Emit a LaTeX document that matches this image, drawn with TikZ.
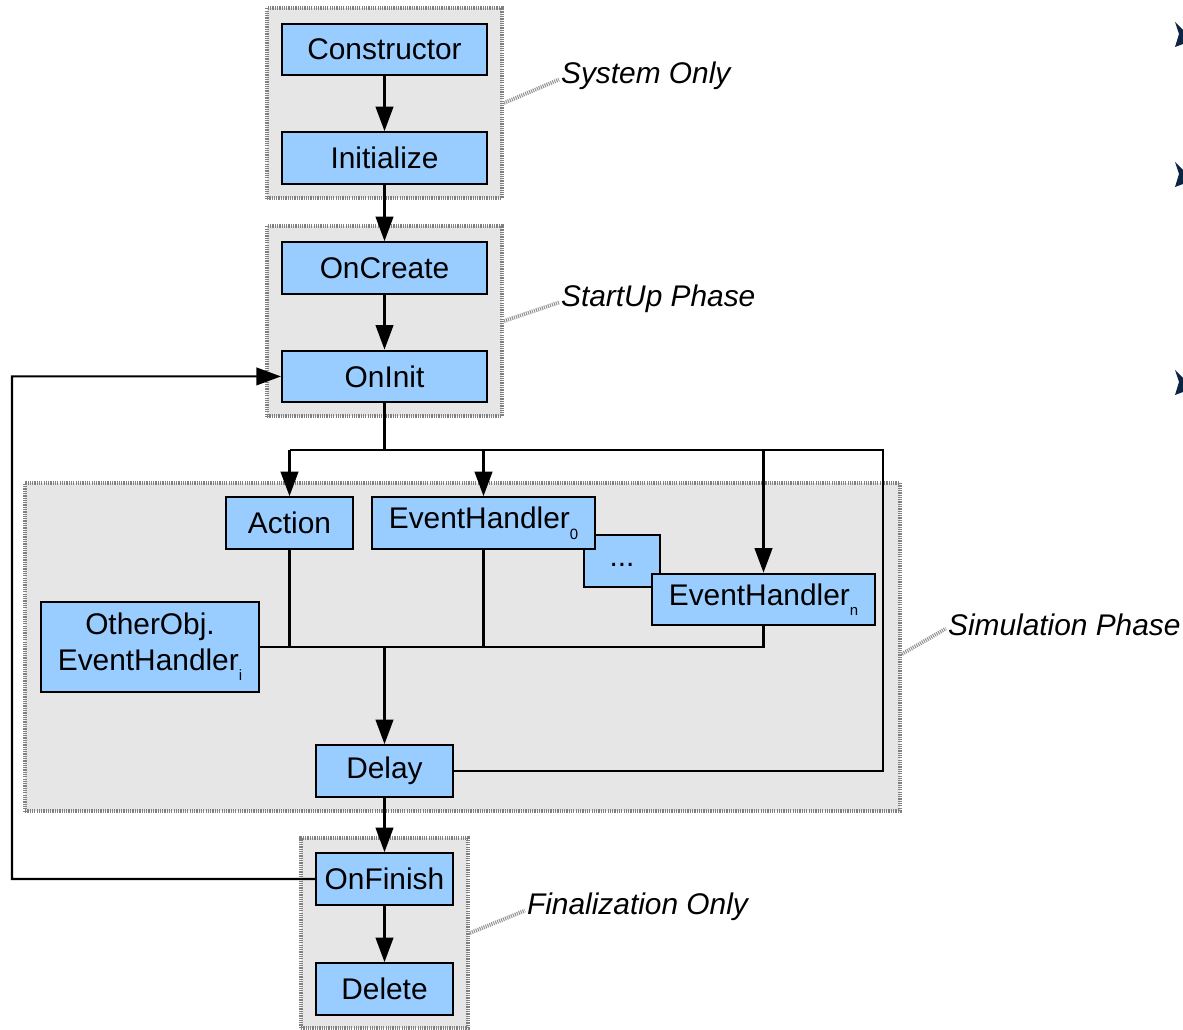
\documentclass[tikz,border=0pt]{standalone}
\usepackage{fontspec}
\setmainfont{Liberation Sans}
\usetikzlibrary{arrows.meta}
\definecolor{boxblue}{HTML}{99CCFF}
\definecolor{groupgray}{HTML}{E6E6E6}
\definecolor{dotgray}{HTML}{808080}
\definecolor{bulletnavy}{HTML}{0B2545}
\newcommand{\lowsub}[1]{\raisebox{-6pt}{\fontsize{8.5}{9}\selectfont #1}}

\begin{document}
\begin{tikzpicture}[
        x=0.02cm, y=-0.02cm,
        node distance = 2.17cm,
        font=\fontsize{17}{20}\selectfont,
        stepbox/.style={draw=black, fill=boxblue, line width=1.2pt, minimum height=1.03cm, inner sep=0pt},
        groupbox/.style={draw=dotgray, fill=groupgray, line width=2.3pt, dash pattern=on 0.7pt off 0.6pt, inner sep=0pt},
        phase/.style={font=\fontsize{17}{20}\selectfont\itshape, inner sep=1pt},
        pointer/.style={draw=dotgray!85, line width=2.2pt, dash pattern=on 0.6pt off 0.6pt},
        flow/.style={line width=1.4pt, -{Triangle[length=14pt,width=10pt]}},
        wire/.style={line width=1.2pt}]

        \useasboundingbox (0,0) rectangle (1183,1030);

        % GROUPS
        \node[groupbox, minimum width=4.7cm, minimum height=3.8cm] (systemgrp) at (384.5,103) {};
        \node[groupbox, minimum width=4.7cm, minimum height=3.8cm] (startupgrp) at (384.5,321) {};
        \node[groupbox, minimum width=17.5cm, minimum height=6.56cm] (simgrp) at (462.5,647) {};
        \node[groupbox, minimum width=3.34cm, minimum height=3.8cm] (finalgrp) at (384.5,933) {};

        % NODES
        % main column
        \node[stepbox, minimum width=4.1cm] (constructor) at (384.5,49.5) {Constructor};
        \node[stepbox, minimum width=4.1cm, below of = constructor] (initialize) {Initialize};
        \node[stepbox, minimum width=4.1cm, below of = initialize, node distance = 2.2cm] (oncreate) {OnCreate};
        \node[stepbox, minimum width=4.1cm, below of = oncreate] (oninit) {OnInit};

        % simulation
        \node[stepbox, minimum width=2.54cm] (action) at (289.5,523) {Action};
        \node[stepbox, minimum width=1.52cm] (dots) at (622,561) {\smash{\raisebox{-3pt}{...}}};
        \node[stepbox, minimum width=4.46cm] (handler0) at (483.5,523) {EventHandler\lowsub{0}};
        \node[stepbox, minimum width=4.46cm] (handlern) at (763.5,599.5) {EventHandler\lowsub{n}};
        \node[stepbox, minimum width=4.36cm, minimum height=1.8cm, align=center] (otherobj) at (150,647) {OtherObj.\\EventHandler\lowsub{i}};
        \node[stepbox, minimum width=2.74cm] (delay) at (384.5,771) {Delay};

        % finalization
        \node[stepbox, minimum width=2.74cm, below of = delay, node distance = 2.16cm] (onfinish) {OnFinish};
        \node[stepbox, minimum width=2.74cm, below of = onfinish, node distance = 2.2cm] (delete) {Delete};

        % phase captions
        \node[phase, anchor=west] (systemlbl) at (559,76) {System Only};
        \node[phase, anchor=west] (startuplbl) at (559,299) {StartUp Phase};
        \node[phase, anchor=west] (simlbl) at (946,625) {Simulation Phase};
        \node[phase, anchor=west] (finallbl) at (525,907) {Finalization Only};

        % ARROWS
        \draw[flow] (constructor)--(initialize);
        \draw[flow] (initialize)--(oncreate);
        \draw[flow] (oncreate)--(oninit);

        % fork out of OnInit
        \coordinate (forkleft) at (289.5,450);
        \coordinate (forkright) at (883,450);
        \draw[line width=1.4pt] (oninit.south)--(oninit.south |- forkleft);
        \draw[wire] (forkleft)--(forkright)--(forkright |- delay.east)--(delay.east);
        \draw[flow] (forkleft)--(action.north);
        \draw[flow] (handler0.north |- forkleft)--(handler0.north);
        \draw[flow] (handlern.north |- forkleft)--(handlern.north);

        % join into Delay
        \draw[wire] (otherobj.east)--(handlern.south |- otherobj.east)--(handlern.south);
        \draw[wire] (action.south)--(action.south |- otherobj.east);
        \draw[wire] (handler0.south)--(handler0.south |- otherobj.east);
        \draw[flow] (delay.north |- otherobj.east)--(delay.north);

        \draw[flow] (delay)--(onfinish);
        \draw[flow] (onfinish)--(delete);

        % loop back
        \coordinate (loopcorner) at (12,879);
        \draw[flow, line width=1.2pt] (onfinish.west)--(loopcorner)--(loopcorner |- oninit.west)--(oninit.west);

        % captions
        \draw[pointer] (systemgrp.east)--([yshift=-2pt]systemlbl.west);
        \draw[pointer] (startupgrp.east)--([yshift=-2pt]startuplbl.west);
        \draw[pointer] ([yshift=-4pt]simgrp.east)--([yshift=-2pt]simlbl.west);
        \draw[pointer] (finalgrp.east)--([yshift=-2pt]finallbl.west);

        % bullets cut at the edge
        \foreach \y in {22,162,370}
            \fill[bulletnavy] (1175,\y)--(1183,\y+8)--(1183,\y+22)--(1175,\y+25)--(1179,\y+12)--cycle;
\end{tikzpicture}
\end{document}
